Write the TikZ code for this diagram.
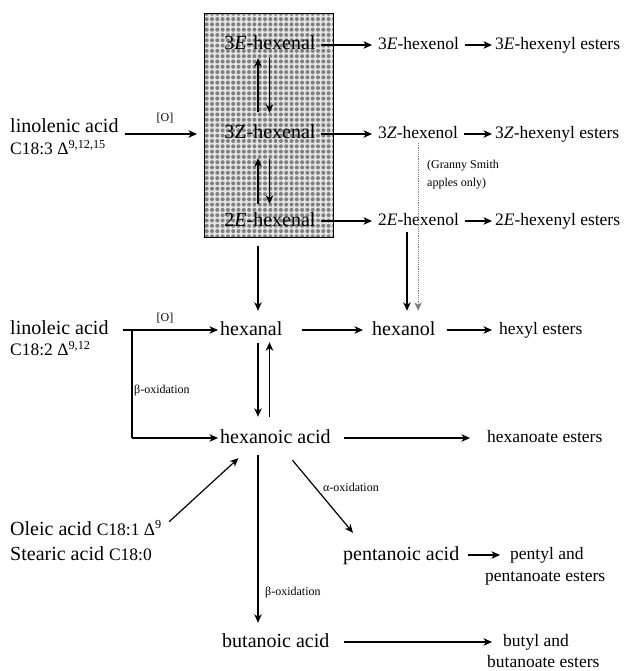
\documentclass[tikz,border=0pt]{standalone}
\usepackage{fontspec}
\setmainfont{Liberation Serif}
\usetikzlibrary{arrows.meta,patterns.meta}
\newcommand\szA{\fontsize{20}{24}\selectfont}
\newcommand\szB{\fontsize{17.5}{21}\selectfont}
\newcommand\szC{\fontsize{12}{14}\selectfont}
\begin{document}
\begin{tikzpicture}[x=1pt,y=-1pt,
  bigt/.style={inner sep=0pt,anchor=west,font=\szA,text height=14pt,text depth=4pt},
  bigc/.style={bigt,anchor=center},
  medt/.style={inner sep=0pt,anchor=west,font=\szB,text height=12.2pt,text depth=3.5pt},
  smlt/.style={inner sep=0pt,anchor=west,font=\szC,text height=8.5pt,text depth=2.5pt},
  arr/.style={-{Stealth[length=8.5pt,width=7.5pt,inset=2.5pt]},line width=1.2pt},
  thinarr/.style={-{Stealth[length=8.5pt,width=7.5pt,inset=2.5pt]},line width=0.6pt,gray,dash pattern=on 1.2pt off 1pt}]
\useasboundingbox (0,0) rectangle (623,671);
\coordinate (c1) at (258,0);
\coordinate (c2) at (269.5,0);
\coordinate (c3) at (407,0);
% left sources
\node[bigt] (lin) at (10,128) {linolenic acid};
\node[medt] (linf) at (10,150) {C18:3 Δ\textsuperscript{9,12,15}};
% box
\node[draw,line width=1.4pt,minimum width=129pt,minimum height=224pt,anchor=north west,inner sep=0pt,
  preaction={fill=gray!20},pattern={Dots[distance=5.3pt,radius=2pt]},pattern color=black!50] (box) at (204,13) {};
\node[bigc] (3Eal) at (270,45) {3\textit{E}-hexenal};
\node[bigc] (3Zal) at (270,134) {3Z-hexenal};
\node[bigc] (2Eal) at (270,221) {2\textit{E}-hexenal};
\draw[arr,shorten <=13pt,shorten >=4pt] (3Zal.north -| c1) -- (3Eal.south -| c1);
\draw[arr,shorten <=4pt,shorten >=12pt] (3Eal.south -| c2) -- (3Zal.north -| c2);
\draw[arr,shorten <=8pt,shorten >=15pt] (2Eal.north -| c1) -- (3Zal.south -| c1);
\draw[arr,shorten <=16pt,shorten >=8pt] (3Zal.south -| c2) -- (2Eal.north -| c2);
\draw[arr,shorten <=6pt,shorten >=7pt] (lin.east |- 3Zal.west) -- (box.west |- 3Zal.west);
\node[smlt,anchor=center] (o1) at (165,119) {[O]};
% hexenols
\node[medt] (3Eol) at (378,45) {3\textit{E}-hexenol};
\node[medt] (3Zol) at (378,134) {3\textit{Z}-hexenol};
\node[medt] (2Eol) at (378,221) {2\textit{E}-hexenol};
\node[medt] (3Ees) at (495,45) {3\textit{E}-hexenyl esters};
\node[medt] (3Zes) at (495,134) {3\textit{Z}-hexenyl esters};
\node[medt] (2Ees) at (495,221) {2\textit{E}-hexenyl esters};
\foreach \a/\b in {3Eal/3Eol,3Zal/3Zol,2Eal/2Eol}
  \draw[arr,shorten <=5pt,shorten >=6pt] (\a.east) -- (\b.west);
\foreach \a/\b in {3Eol/3Ees,3Zol/3Zes,2Eol/2Ees}
  \draw[arr,shorten <=6pt,shorten >=3pt] (\a.east) -- (\b.west);
\node[smlt] (gs1) at (427,165) {(Granny Smith};
\node[smlt] (gs2) at (427,183) {apples only)};
% C6 row
\node[bigt] (linoleic) at (10,329) {linoleic acid};
\node[medt] (linoleicf) at (10,351) {C18:2 Δ\textsuperscript{9,12}};
\node[bigt] (hexanal) at (220,330) {hexanal};
\node[bigt] (hexanol) at (372,330) {hexanol};
\node[medt] (hexyl) at (499,330) {hexyl esters};
\draw[thinarr,shorten <=1pt,shorten >=10pt] (3Zol.south) -- (3Zol.south |- hexanol.north);
\draw[arr,shorten <=3pt,shorten >=10pt] (2Eol.south -| c3) -- (hexanol.north -| c3);
\draw[arr,shorten <=8pt,shorten >=10pt] (box.south -| c1) -- (hexanal.north -| c1);
\draw[arr,shorten <=14pt,shorten >=2pt] (linoleic.east |- hexanal.west) -- (hexanal.west);
\node[smlt,anchor=center] (o2) at (165,318) {[O]};
\draw[arr,shorten <=19pt,shorten >=9pt] (hexanal.east) -- (hexanol.west);
\draw[arr,shorten <=11pt,shorten >=7pt] (hexanol.east) -- (hexyl.west);
% hexanoic
\node[bigt] (hexanoic) at (220,438) {hexanoic acid};
\node[medt] (hexanoate) at (487,438) {hexanoate esters};
\coordinate (bs) at (132,330);
\draw[line width=1.2pt] (bs) -- (bs |- hexanoic.west);
\draw[arr,shorten >=2pt] (bs |- hexanoic.west) -- (hexanoic.west);
\node[smlt] (beta1) at (134,390) {β-oxidation};
\draw[arr,shorten <=4pt,shorten >=12pt] (hexanal.south -| c1) -- (hexanoic.north -| c1);
\draw[arr,shorten <=12pt,shorten >=3pt] (hexanoic.north -| c2) -- (hexanal.south -| c2);
\draw[arr,shorten <=13pt,shorten >=17pt] (hexanoic.east) -- (hexanoate.west);
% C18 sources
\node[bigt] (oleic) at (10,530) {Oleic acid {\szB C18:1 Δ\textsuperscript{9}}};
\node[bigt] (stearic) at (10,555) {Stearic acid {\szB C18:0}};
\draw[arr] ([shift={(7,1)}]oleic.north east) -- ([shift={(-37,11)}]hexanoic.south);
% butanoic
\node[bigt] (butanoic) at (222,642) {butanoic acid};
\node[medt] (butyl) at (503,642) {butyl and};
\node[medt] (butanoate) at (487,663) {butanoate esters};
\draw[arr,shorten <=8pt,shorten >=10pt] (hexanoic.south -| c1) -- (butanoic.north -| c1);
\node[smlt] (beta2) at (265,592) {β-oxidation};
\draw[arr,shorten <=14pt,shorten >=11pt] (butanoic.east) -- (butyl.west);
% pentanoic
\node[bigt] (pentanoic) at (343,555) {pentanoic acid};
\node[medt] (pentyl) at (510,555) {pentyl and};
\node[medt] (pentanoate) at (485,577) {pentanoate esters};
\draw[arr] ([shift={(17,13)}]hexanoic.south) -- ([shift={(10,-13)}]pentanoic.north west);
\node[smlt] (alpha) at (323,488) {α-oxidation};
\draw[arr,shorten <=9pt,shorten >=10pt] (pentanoic.east) -- (pentyl.west);
\end{tikzpicture}
\end{document}
